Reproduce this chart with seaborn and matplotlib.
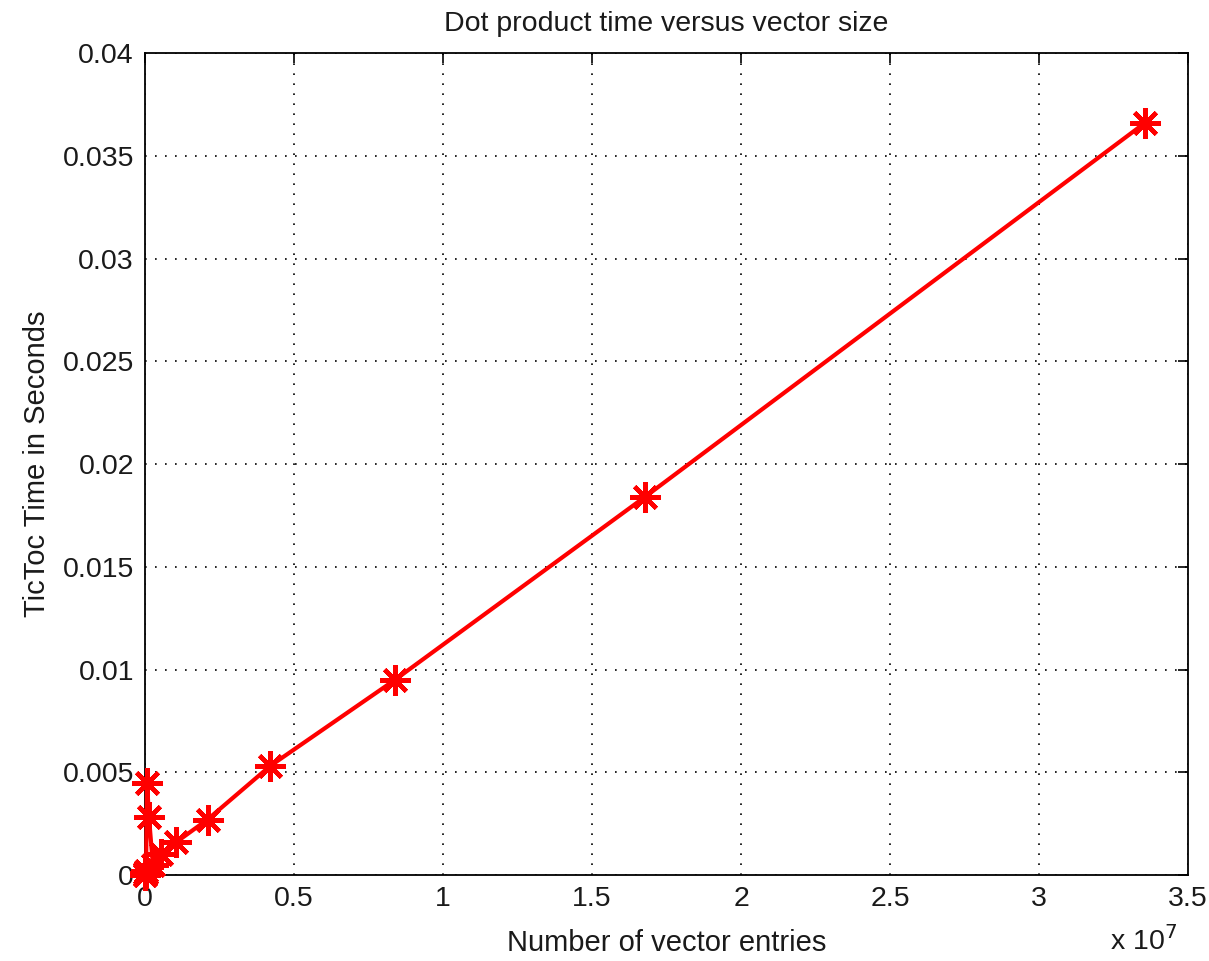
import matplotlib.pyplot as plt
import seaborn as sns
import numpy as np
import pandas as pd

# vector sizes (number of entries) and measured tic/toc times
vector_sizes = [1024, 2048, 4096, 8192, 16384, 32768, 65536, 131072,
                262144, 524288, 1048576, 2097152, 4194304, 8388608,
                16777216, 33554432]
tictoc_times = [0.0, 0.0, 0.0, 0.0001, 0.0001, 0.0002, 0.0045, 0.0028,
                0.0005, 0.0010, 0.0016, 0.0027, 0.0053, 0.0095,
                0.0184, 0.0366]

x_ticks = [0, 0.5e7, 1e7, 1.5e7, 2e7, 2.5e7, 3e7, 3.5e7]
x_labels = ["0", "0.5", "1", "1.5", "2", "2.5", "3", "3.5"]
y_ticks = [0, 0.005, 0.01, 0.015, 0.02, 0.025, 0.03, 0.035, 0.04]
y_labels = ["0", "0.005", "0.01", "0.015", "0.02", "0.025", "0.03",
            "0.035", "0.04"]

df = pd.DataFrame({"n": vector_sizes, "t": tictoc_times})

sns.set_style("white")
plt.rcParams["font.family"] = ["Liberation Sans", "DejaVu Sans"]
plt.rcParams["xtick.direction"] = "in"
plt.rcParams["ytick.direction"] = "in"

txt = "#1a1a1a"

fig = plt.figure(figsize=(12.09, 9.61), dpi=100)
ax = fig.add_axes([0.12, 0.0895, 0.8626, 0.8553])

sns.lineplot(data=df, x="n", y="t", sort=False, ax=ax, color="red",
             linewidth=3, marker=(8, 2, 0), markersize=22,
             markeredgewidth=3.2, markeredgecolor="red", clip_on=False,
             zorder=5)

ax.set_xlim(0, 3.5e7)
ax.set_ylim(0, 0.04)
ax.set_xticks(x_ticks)
ax.set_xticklabels(x_labels)
ax.set_yticks(y_ticks)
ax.set_yticklabels(y_labels)
ax.tick_params(labelsize=20.5, length=7, width=1.2, top=True, right=True,
               color="black", labelcolor=txt, pad=8)
ax.grid(True, linestyle=(0, (1, 5)), color="black", linewidth=1.2)

for s in ax.spines.values():
    s.set_color("black")
    s.set_linewidth(1.3)

ax.set_title("Dot product time versus vector size", fontsize=20.5,
             color=txt, pad=16)
ax.set_xlabel("Number of vector entries", fontsize=21, color=txt,
              labelpad=12)
ax.set_ylabel("TicToc Time in Seconds", fontsize=21, color=txt,
              labelpad=8)
ax.text(0.99, -0.062, r"x 10$^{7}$", transform=ax.transAxes, ha="right",
        va="top", fontsize=20.5, color=txt)

fig.savefig("out.png", dpi=100)
